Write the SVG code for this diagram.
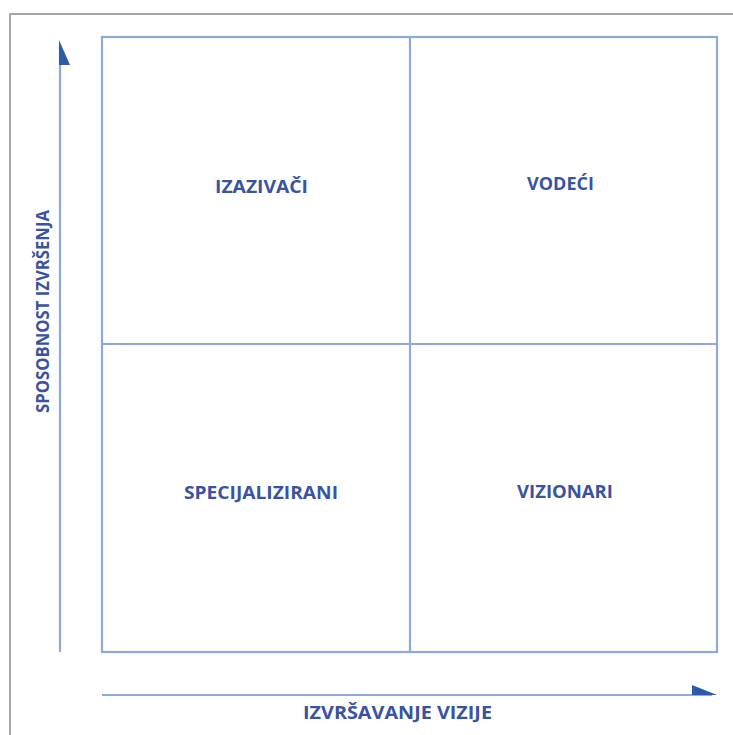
<svg xmlns="http://www.w3.org/2000/svg" width="733" height="735" viewBox="0 0 733 735">
  <style>
    .frame { fill: none; stroke: #a6a6a6; stroke-width: 2; }
    .grid { fill: none; stroke: #8faad8; stroke-width: 2.2; }
    .axis { fill: none; stroke: #8faad8; stroke-width: 2.2; }
    .head { fill: #2b5ca8; }
    .lbl { font-family: "Open Sans", "Liberation Sans", sans-serif; font-weight: bold; font-size: 17px; fill: #3a53a0; }
  </style>
  <rect x="0" y="0" width="733" height="735" fill="#ffffff"/>
  <path class="frame" d="M10 735 V14 H733"/>
  <g id="matrix">
    <rect class="grid" x="102" y="37" width="615" height="615"/>
    <line class="grid" x1="410" y1="37" x2="410" y2="652"/>
    <line class="grid" x1="102" y1="344" x2="717" y2="344"/>
  </g>
  <g id="connectors">
    <line class="axis" x1="60" y1="45" x2="60" y2="652"/>
    <polygon class="head" points="59,40 70,65 59,65"/>
    <line class="axis" x1="102" y1="695" x2="712" y2="695"/>
    <polygon class="head" points="692,685 717,695 692,695"/>
  </g>
  <g id="izazivaci"><text class="lbl" x="215" y="193" textLength="93" lengthAdjust="spacingAndGlyphs">IZAZIVAČI</text></g>
  <g id="vodeci"><text class="lbl" x="527" y="190" textLength="67" lengthAdjust="spacingAndGlyphs">VODEĆI</text></g>
  <g id="specijalizirani"><text class="lbl" x="184" y="499" textLength="154" lengthAdjust="spacingAndGlyphs">SPECIJALIZIRANI</text></g>
  <g id="vizionari"><text class="lbl" x="517" y="498" textLength="96" lengthAdjust="spacingAndGlyphs">VIZIONARI</text></g>
  <g id="x-axis-label"><text class="lbl" x="303" y="719" textLength="189" lengthAdjust="spacingAndGlyphs">IZVRŠAVANJE VIZIJE</text></g>
  <g id="y-axis-label"><text class="lbl" transform="translate(49,413) rotate(-90)" x="0" y="0" textLength="203" lengthAdjust="spacingAndGlyphs">SPOSOBNOST IZVRŠENJA</text></g>
</svg>
